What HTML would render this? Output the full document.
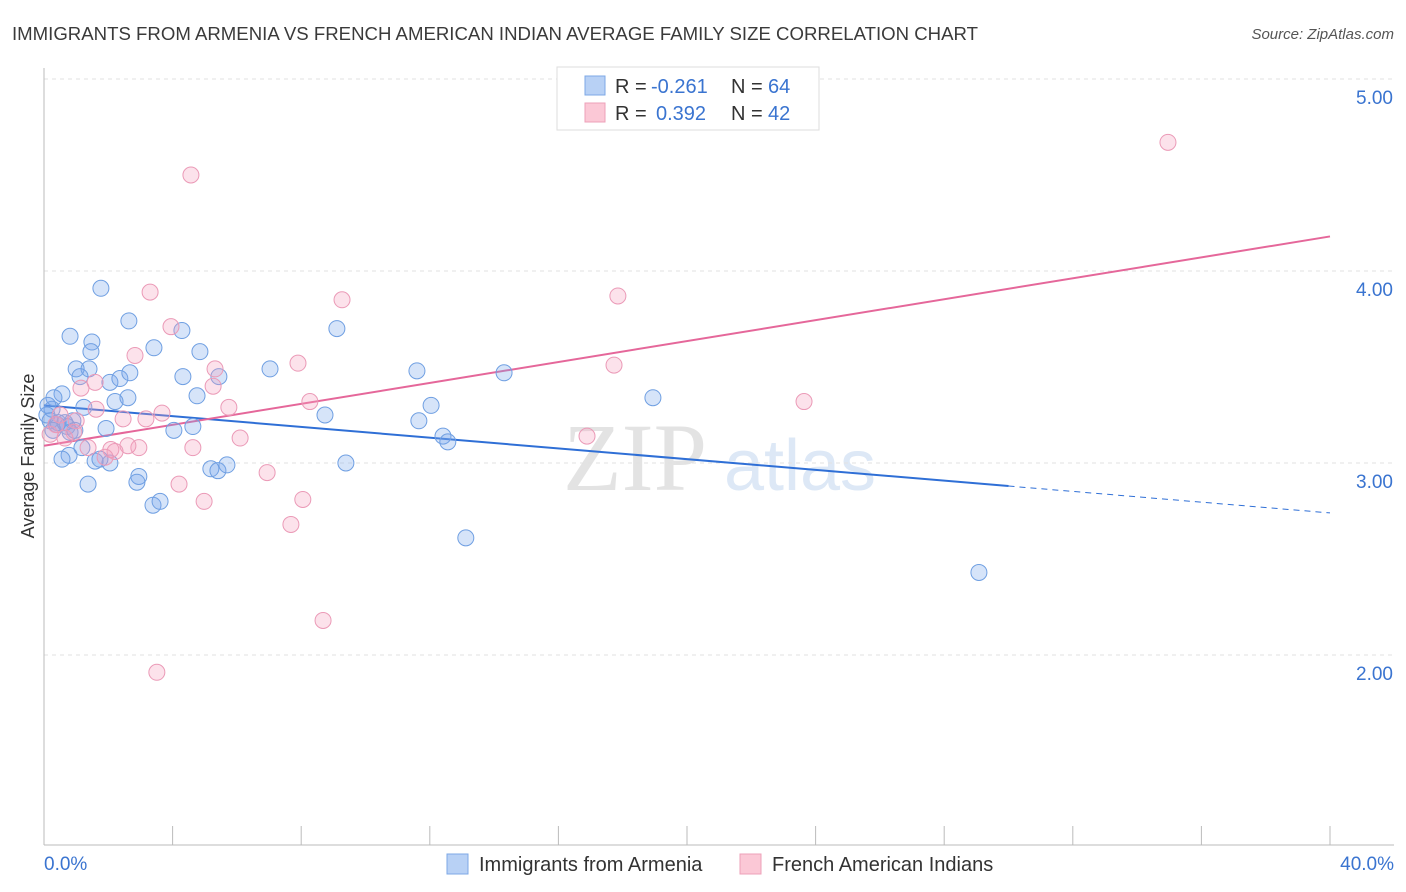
<!DOCTYPE html>
<html><head><meta charset="utf-8"><style>
body{margin:0;background:#fff;font-family:"Liberation Sans",sans-serif;}
svg{display:block}
</style></head><body>
<svg id="chart" width="1406" height="892">
<text x="12" y="40" font-size="18" fill="#3a3a3a" textLength="966" lengthAdjust="spacingAndGlyphs">IMMIGRANTS FROM ARMENIA VS FRENCH AMERICAN INDIAN AVERAGE FAMILY SIZE CORRELATION CHART</text>
<text x="1394" y="39" font-size="15" fill="#555" font-style="italic" text-anchor="end">Source: ZipAtlas.com</text>
<text x="34" y="456" font-size="18" fill="#333" text-anchor="middle" transform="rotate(-90 34 456)">Average Family Size</text>
<g><text x="635" y="490" font-size="96" fill="#e3e3e3" font-family="Liberation Serif" text-anchor="middle">ZIP</text><text x="800" y="490" font-size="72" fill="#dde8f6" text-anchor="middle">atlas</text></g>
<g id="grid"></g><g id="axes"></g><g id="trends"></g><g id="points"></g>
<g>
<rect x="557" y="67" width="262" height="63" fill="#fff" stroke="#ddd"/>
<rect x="585" y="76" width="20" height="19" fill="#b8d1f5" stroke="#7ea8e6"/>
<rect x="585" y="103" width="20" height="19" fill="#fbc8d6" stroke="#eea0b8"/>
<text x="615" y="93" font-size="20" fill="#333">R =</text>
<text x="651" y="93" font-size="20" fill="#3a74d0">-0.261</text>
<text x="731" y="93" font-size="20" fill="#333">N =</text>
<text x="768" y="93" font-size="20" fill="#3a74d0">64</text>
<text x="615" y="120" font-size="20" fill="#333">R =</text>
<text x="656" y="120" font-size="20" fill="#3a74d0">0.392</text>
<text x="731" y="120" font-size="20" fill="#333">N =</text>
<text x="768" y="120" font-size="20" fill="#3a74d0">42</text>
</g>
<g>
<rect x="447" y="854" width="21" height="20" fill="#b8d1f5" stroke="#7ea8e6"/>
<text x="479" y="871" font-size="20" fill="#333">Immigrants from Armenia</text>
<rect x="740" y="854" width="21" height="20" fill="#fbc8d6" stroke="#eea0b8"/>
<text x="772" y="871" font-size="20" fill="#333">French American Indians</text>
</g>
</svg>
<script>
const yTicks=[2,3,4,5];
const yTickLabels=["2.00","3.00","4.00","5.00"];
const xTickLabels=["0.0%","40.0%"];
const blueX=[1.77,0.81,1.49,1.46,2.64,3.42,4.29,4.85,1.00,1.40,1.12,0.56,0.31,2.05,2.36,2.67,4.32,5.44,7.03,9.11,11.60,14.31,18.94,4.76,2.61,2.21,1.24,0.25,0.19,0.90,0.40,0.72,0.81,1.93,4.04,4.63,8.74,11.66,12.04,12.41,12.56,1.18,0.78,0.56,1.59,2.05,2.95,2.89,1.37,3.39,3.61,5.19,5.41,5.69,9.39,13.12,29.08,0.12,0.44,1.74,0.28,0.65,0.96,0.09];
const blueY=[3.91,3.66,3.63,3.58,3.74,3.60,3.69,3.58,3.49,3.49,3.45,3.36,3.34,3.42,3.44,3.47,3.45,3.45,3.49,3.70,3.48,3.47,3.34,3.35,3.34,3.32,3.29,3.28,3.22,3.22,3.20,3.19,3.16,3.18,3.17,3.19,3.25,3.22,3.30,3.14,3.11,3.08,3.04,3.02,3.01,3.00,2.93,2.90,2.89,2.78,2.80,2.97,2.96,2.99,3.00,2.61,2.43,3.30,3.21,3.02,3.17,3.21,3.17,3.25];
const pinkX=[34.96,4.57,3.30,9.27,17.85,3.95,2.83,7.90,17.73,5.32,5.26,1.59,1.15,5.75,8.27,23.64,3.67,3.17,2.46,1.62,1.00,0.37,0.93,0.65,6.10,4.63,2.95,2.61,2.08,2.21,1.90,1.37,16.89,6.94,4.20,4.98,8.05,7.68,8.68,3.51,0.19,0.50];
const pinkY=[4.67,4.50,3.89,3.85,3.87,3.71,3.56,3.52,3.51,3.49,3.40,3.42,3.39,3.29,3.32,3.32,3.26,3.23,3.23,3.28,3.22,3.20,3.16,3.13,3.13,3.08,3.08,3.09,3.07,3.06,3.03,3.08,3.14,2.95,2.89,2.80,2.81,2.68,2.18,1.91,3.15,3.25];
const blueTrend=[3.30,2.74];
const pinkTrend=[3.09,4.18];
const blueSolidEnd=30;
const NS="http://www.w3.org/2000/svg";
const X=v=>44+v/40*1286;
const Y=v=>463-(v-3)*192;
function mk(tag,attrs,parent){const e=document.createElementNS(NS,tag);for(const k in attrs)e.setAttribute(k,attrs[k]);document.getElementById(parent).appendChild(e);return e;}
yTicks.forEach((t,i)=>{
 const l=mk('line',{x1:44,x2:1394,y1:Y(t),y2:Y(t),stroke:'#e2e2e2','stroke-dasharray':'4,4'},'grid');
 
 
 const tx=mk('text',{x:1393,y:Y(t)+25,'font-size':19,fill:'#3a74d0','text-anchor':'end'},'axes');
 tx.textContent=yTickLabels[i];
 
 
});
const ya=mk('line',{x1:44,x2:44,y1:68,y2:845,stroke:'#bbb'},'axes');


const xa=mk('line',{x1:44,x2:1394,y1:845,y2:845,stroke:'#bbb'},'axes');


for(let i=0;i<=10;i++){const t=mk('line',{x1:X(i*4),x2:X(i*4),y1:826,y2:845,stroke:'#bbb'},'axes');
 
 }
[[0,'start',44],[40,'end',1394]].forEach((d,i)=>{const t=mk('text',{x:d[2],y:870,'font-size':19,fill:'#3a74d0','text-anchor':d[1]},'axes');t.textContent=xTickLabels[i];
 
 });
function pts(xs,ys,fill,stroke,name){xs.forEach((x,i)=>{const c=mk('circle',{cx:X(x),cy:Y(ys[i]),r:8,fill:fill,stroke:stroke,'stroke-width':1},'points');
 
 });}
const bAt=x=>blueTrend[0]+(blueTrend[1]-blueTrend[0])*x/40;
const l1=mk('line',{x1:X(0),y1:Y(bAt(0)),x2:X(blueSolidEnd),y2:Y(bAt(blueSolidEnd)),stroke:'#2f6fd6','stroke-width':2},'trends');


const l2=mk('line',{x1:X(blueSolidEnd),y1:Y(bAt(blueSolidEnd)),x2:X(40),y2:Y(bAt(40)),stroke:'#2f6fd6','stroke-width':1,'stroke-dasharray':'6,5'},'trends');


const l3=mk('line',{x1:X(0),y1:Y(pinkTrend[0]),x2:X(40),y2:Y(pinkTrend[1]),stroke:'#e5679a','stroke-width':2},'trends');


pts(blueX,blueY,'rgba(120,165,235,0.3)','#6f9fe2','armenia-point');
pts(pinkX,pinkY,'rgba(245,160,190,0.3)','#eb9ab7','french-american-indian-point');
</script>
</body></html>
